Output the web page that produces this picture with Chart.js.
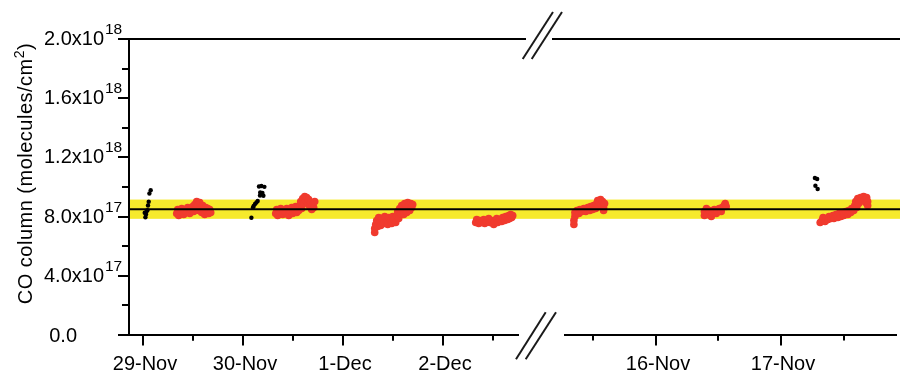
<!DOCTYPE html>
<html>
<head>
<meta charset="utf-8">
<script src="https://cdn.jsdelivr.net/npm/chart.js@4.4.1/dist/chart.umd.min.js"></script>
<style>
  html, body { margin: 0; padding: 0; background: #fff; }
  #wrap { position: relative; width: 900px; height: 374px; overflow: hidden; background: #fff; }
  #wrap canvas { position: absolute; left: 0; top: 0; }
</style>
</head>
<body>
<div id="wrap">
  <canvas id="early" width="900" height="374"></canvas>
  <canvas id="late" width="900" height="374"></canvas>
</div>
<script>
// Time is fractional day of year; CO total column in units of 1e17 molecules/cm2.

// Left panel (29-Nov .. 2-Dec): main retrievals
const earlyDays = [
  333.337, 333.347, 333.357, 333.377, 333.387, 333.407, 333.417, 333.437, 333.447, 333.467,
  333.477, 333.497, 333.507, 333.517, 333.527, 333.537, 333.547, 333.557, 333.567, 333.577,
  333.587, 333.597, 333.607, 333.617, 333.627, 333.637, 333.647, 333.657, 333.667, 333.677,
  334.327, 334.337, 334.347, 334.367, 334.377, 334.397, 334.407, 334.427, 334.437, 334.457,
  334.467, 334.487, 334.497, 334.517, 334.527, 334.537, 334.547, 334.557, 334.567, 334.577,
  334.587, 334.597, 334.607, 334.617, 334.627, 334.637, 334.647, 334.657, 334.667, 334.677,
  334.687, 334.697, 334.707, 334.717,
  335.317, 335.317, 335.327, 335.337, 335.347, 335.357, 335.367, 335.377, 335.387, 335.407,
  335.417, 335.437, 335.447, 335.457, 335.477, 335.487, 335.497, 335.507, 335.527, 335.537,
  335.547, 335.557, 335.567, 335.577, 335.587, 335.597, 335.607, 335.617, 335.627, 335.637,
  335.647, 335.657, 335.667, 335.677, 335.687, 335.697,
  336.327, 336.337, 336.357, 336.367, 336.387, 336.407, 336.417, 336.437, 336.457, 336.467,
  336.487, 336.507, 336.517, 336.537, 336.547, 336.567, 336.587, 336.597, 336.617, 336.627,
  336.647, 336.657, 336.667, 336.677, 336.687, 336.697
];
const earlyCO = [
  8.21, 8.48, 8.07, 8.34, 8.55, 8.14, 8.41, 8.28, 8.61, 8.21,
  8.48, 8.68, 8.34, 8.82, 8.55, 9.02, 8.75, 8.41, 8.95, 8.61,
  8.28, 8.75, 8.48, 8.14, 8.61, 8.34, 8.55, 8.21, 8.48, 8.28,
  8.21, 8.48, 8.07, 8.34, 8.55, 8.14, 8.41, 8.28, 8.55, 8.07,
  8.41, 8.61, 8.21, 8.48, 8.68, 8.28, 8.55, 8.41, 8.75, 9.02,
  8.55, 9.22, 8.89, 9.36, 9.09, 9.29, 8.89, 9.16, 8.68, 8.95,
  8.48, 8.82, 8.61, 9.02,
  6.93, 7.20, 7.47, 7.74, 7.33, 7.94, 7.60, 7.40, 7.87, 7.53,
  8.01, 7.67, 7.47, 7.94, 7.74, 7.53, 8.01, 7.80, 7.60, 8.07,
  8.34, 7.87, 8.55, 8.21, 8.75, 8.41, 8.14, 8.89, 8.55, 8.28,
  8.95, 8.68, 8.41, 8.89, 8.61, 8.82,
  7.60, 7.80, 7.53, 7.74, 7.60, 7.80, 7.53, 7.67, 7.87, 7.60,
  7.74, 7.47, 7.67, 7.87, 7.60, 7.80, 7.67, 7.94, 7.74, 8.01,
  7.80, 8.07, 7.87, 8.14, 7.94, 8.07
];
// Left panel: additional (black) retrievals
const earlyExtraDays = [
  333.077, 333.064, 333.057, 333.050, 333.044, 333.034, 333.017, 333.030, 333.024,
  334.084, 334.100, 334.107, 334.120, 334.134, 334.147, 334.160, 334.184, 334.214,
  334.172, 334.194, 334.170, 334.204
];
const earlyExtraCO = [
  9.78, 9.56, 9.00, 8.75, 8.43, 8.32, 8.26, 8.14, 7.96,
  7.92, 8.61, 8.72, 8.85, 8.95, 9.05, 10.03, 10.07, 10.01,
  9.63, 9.59, 9.43, 9.41
];

// Right panel (16-Nov .. 17-Nov): main retrievals
const lateDays = [
  319.347, 319.347, 319.355, 319.355, 319.371, 319.387, 319.395, 319.410, 319.426, 319.442,
  319.458, 319.474, 319.481, 319.497, 319.505, 319.521, 319.529, 319.537, 319.545, 319.553,
  319.560, 319.568, 319.576, 319.584, 319.592, 319.584,
  320.389, 320.389, 320.405, 320.413, 320.429, 320.444, 320.452, 320.468, 320.484, 320.492,
  320.507, 320.523, 320.531, 320.547, 320.555, 320.563,
  321.313, 321.328, 321.336, 321.352, 321.360, 321.376, 321.384, 321.400, 321.415, 321.423,
  321.439, 321.455, 321.463, 321.479, 321.494, 321.502, 321.518, 321.534, 321.541, 321.557,
  321.565, 321.581, 321.589, 321.597, 321.605, 321.613, 321.620, 321.636, 321.644, 321.660,
  321.668, 321.676, 321.684, 321.692, 321.692
];
const lateCO = [
  7.47, 7.74, 8.01, 8.28, 8.41, 8.21, 8.48, 8.34, 8.55, 8.34,
  8.61, 8.41, 8.68, 8.48, 8.75, 8.55, 8.89, 9.09, 8.68, 8.95,
  9.16, 8.82, 9.02, 8.61, 8.89, 8.41,
  8.07, 8.34, 8.55, 8.14, 8.41, 8.01, 8.28, 8.48, 8.21, 8.41,
  8.55, 8.34, 8.61, 8.75, 8.89, 8.68,
  7.60, 7.74, 7.94, 7.67, 7.87, 7.80, 8.01, 7.87, 8.07, 7.87,
  8.14, 7.94, 8.21, 8.01, 8.28, 8.07, 8.34, 8.14, 8.41, 8.28,
  8.55, 8.41, 8.75, 9.02, 8.61, 9.22, 8.89, 9.29, 9.09, 9.36,
  9.16, 8.95, 9.29, 9.02, 8.75
];
// Right panel: additional (black) retrievals
const lateExtraDays = [321.271, 321.289, 321.275, 321.293];
const lateExtraCO = [10.61, 10.54, 10.08, 9.86];

// Campaign mean and one standard deviation (1e17 molecules/cm2)
const meanCO = 8.5;
const sdCO = 0.65;

// Axis ticks
const yTicks = [0, 2, 4, 6, 8, 10, 12, 14, 16, 18, 20];
const earlyMajorDays = [333, 334, 335, 336];
const earlyDayLabels = ['29-Nov', '30-Nov', '1-Dec', '2-Dec'];
const lateMajorDays = [320, 321];
const lateDayLabels = ['16-Nov', '17-Nov'];

// ---------------------------------------------------------------
const RED = '#F03A2E';
const YELLOW = '#F6EA2C';
const FONT = '"Liberation Sans", Arial, sans-serif';
const PLOT_TOP = 39;
const AXIS_H = 39;
const PLOT_LEFT = 129;
const EARLY_RIGHT = 518;
const LATE_LEFT = 565;
const W = 900;

const toPoints = (xs, ys) => xs.map((x, i) => ({ x, y: ys[i] }));

function line(ctx, x1, y1, x2, y2, w, color) {
  ctx.save();
  ctx.strokeStyle = color || '#000';
  ctx.lineWidth = w;
  ctx.beginPath();
  ctx.moveTo(x1, y1);
  ctx.lineTo(x2, y2);
  ctx.stroke();
  ctx.restore();
}

function drawDayTicks(chart, majors, labels) {
  const ctx = chart.ctx;
  const xs = chart.scales.x;
  const y0 = Math.round(chart.chartArea.bottom);
  const inRange = v => v >= xs.min && v <= xs.max;
  ctx.save();
  majors.forEach((d, i) => {
    [d - 0.5, d + 0.5].forEach(m => {
      if (inRange(m)) {
        const px = Math.round(xs.getPixelForValue(m));
        line(ctx, px, y0, px, y0 + 5.5, 2);
      }
    });
    const px = Math.round(xs.getPixelForValue(d));
    line(ctx, px, y0, px, y0 + 10.5, 2);
    ctx.fillStyle = '#000';
    ctx.font = '20px ' + FONT;
    ctx.textAlign = 'center';
    ctx.textBaseline = 'alphabetic';
    ctx.fillText(labels[i], px + 2, 370);
  });
  ctx.restore();
}

function drawYAxisDecor(chart) {
  const ctx = chart.ctx;
  const ys = chart.scales.y;
  const ax = PLOT_LEFT;
  ctx.save();
  ctx.fillStyle = '#000';
  yTicks.forEach(v => {
    const py = Math.round(ys.getPixelForValue(v));
    const major = v % 4 === 0;
    line(ctx, major ? ax - 11 : ax - 7, py, ax, py, 2);
    if (!major) return;
    ctx.textBaseline = 'alphabetic';
    if (v === 0) {
      ctx.font = '20px ' + FONT;
      ctx.textAlign = 'right';
      ctx.fillText('0.0', 77, py + 7);
      return;
    }
    const exp = v >= 10 ? 18 : 17;
    const mant = (exp === 18 ? v / 10 : v).toFixed(1);
    ctx.font = '20px ' + FONT;
    ctx.textAlign = 'right';
    ctx.fillText(mant + 'x10', 104, py + 5.5);
    ctx.font = '15.5px ' + FONT;
    ctx.textAlign = 'left';
    ctx.fillText(String(exp), 105, py - 5);
  });

  // Axis title with superscript
  ctx.translate(32, 173.5);
  ctx.rotate(-Math.PI / 2);
  ctx.letterSpacing = '0.5px';
  const main = 'CO column (molecules/cm';
  ctx.font = '20px ' + FONT;
  const w1 = ctx.measureText(main).width;
  const w3 = ctx.measureText(')').width;
  ctx.font = '14px ' + FONT;
  const w2 = ctx.measureText('2').width;
  let x = -(w1 + w2 + w3) / 2;
  ctx.textAlign = 'left';
  ctx.font = '20px ' + FONT;
  ctx.fillText(main, x, 0);
  x += w1;
  ctx.font = '14px ' + FONT;
  ctx.fillText('2', x, -8);
  x += w2;
  ctx.font = '20px ' + FONT;
  ctx.fillText(')', x, 0);
  ctx.restore();
}

// Shaded mean +/- 1 sd band, across the whole plot width (under everything)
const bandPlugin = {
  id: 'band',
  beforeDraw(chart) {
    const ys = chart.scales.y;
    const ctx = chart.ctx;
    const top = ys.getPixelForValue(meanCO + sdCO);
    const bot = ys.getPixelForValue(meanCO - sdCO);
    ctx.save();
    ctx.fillStyle = YELLOW;
    ctx.fillRect(PLOT_LEFT, top, W - PLOT_LEFT, bot - top);
    ctx.restore();
  }
};

// Mean line, drawn above the points of both panels
const meanLinePlugin = {
  id: 'meanLine',
  afterDatasetsDraw(chart) {
    const py = chart.scales.y.getPixelForValue(meanCO);
    line(chart.ctx, PLOT_LEFT, py, W, py, 2);
  }
};

const earlyDecor = {
  id: 'earlyDecor',
  afterDraw(chart) {
    const ctx = chart.ctx;
    const top = Math.round(chart.chartArea.top);
    line(ctx, PLOT_LEFT - 11, top, 526, top, 2);
    drawYAxisDecor(chart);
    drawDayTicks(chart, earlyMajorDays, earlyDayLabels);
  }
};

const lateDecor = {
  id: 'lateDecor',
  afterDraw(chart) {
    const ctx = chart.ctx;
    const top = Math.round(chart.chartArea.top);
    line(ctx, 552, top, W, top, 2);
    drawDayTicks(chart, lateMajorDays, lateDayLabels);
    // axis break marks
    line(ctx, 522.7, 59, 553, 12, 2, '#1a1a1a');
    line(ctx, 531.7, 59, 562, 12, 2, '#1a1a1a');
    line(ctx, 516, 359.3, 545.7, 312.3, 2, '#1a1a1a');
    line(ctx, 525.7, 359.3, 556, 312.3, 2, '#1a1a1a');
  }
};

function makeScales(xMin, xMax, showY) {
  const y = {
    type: 'linear', min: 0, max: 20, display: showY,
    ticks: { display: false, stepSize: 2 },
    grid: { display: false, drawTicks: false },
    border: { display: true, color: '#000', width: 2 }
  };
  if (showY) y.afterFit = s => { s.width = PLOT_LEFT; };
  return {
    x: {
      type: 'linear', min: xMin, max: xMax,
      afterFit(s) { s.height = AXIS_H; },
      ticks: { display: false },
      grid: { display: false, drawTicks: false },
      border: { display: true, color: '#000', width: 2 }
    },
    y
  };
}

function datasets(days, co, xDays, xCo) {
  return [
    { data: toPoints(days, co), backgroundColor: RED, borderWidth: 0, pointRadius: 3.8, pointHoverRadius: 3.8 },
    { data: toPoints(xDays, xCo), backgroundColor: '#000', borderWidth: 0, pointRadius: 2.2, pointHoverRadius: 2.2 }
  ];
}

const common = {
  responsive: false,
  animation: false,
  events: [],
  plugins: { legend: { display: false }, tooltip: { enabled: false } }
};

new Chart(document.getElementById('early'), {
  type: 'scatter',
  data: { datasets: datasets(earlyDays, earlyCO, earlyExtraDays, earlyExtraCO) },
  options: Object.assign({}, common, {
    layout: { padding: { top: PLOT_TOP, right: W - EARLY_RIGHT, bottom: 0, left: 0 } },
    scales: makeScales(332.86, 336.75, true)
  }),
  plugins: [bandPlugin, earlyDecor]
});

new Chart(document.getElementById('late'), {
  type: 'scatter',
  data: { datasets: datasets(lateDays, lateCO, lateExtraDays, lateExtraCO) },
  options: Object.assign({}, common, {
    layout: { padding: { top: PLOT_TOP, right: 0, bottom: 0, left: LATE_LEFT } },
    scales: makeScales(319.276, 321.92, false)
  }),
  plugins: [meanLinePlugin, lateDecor]
});
</script>
</body>
</html>
